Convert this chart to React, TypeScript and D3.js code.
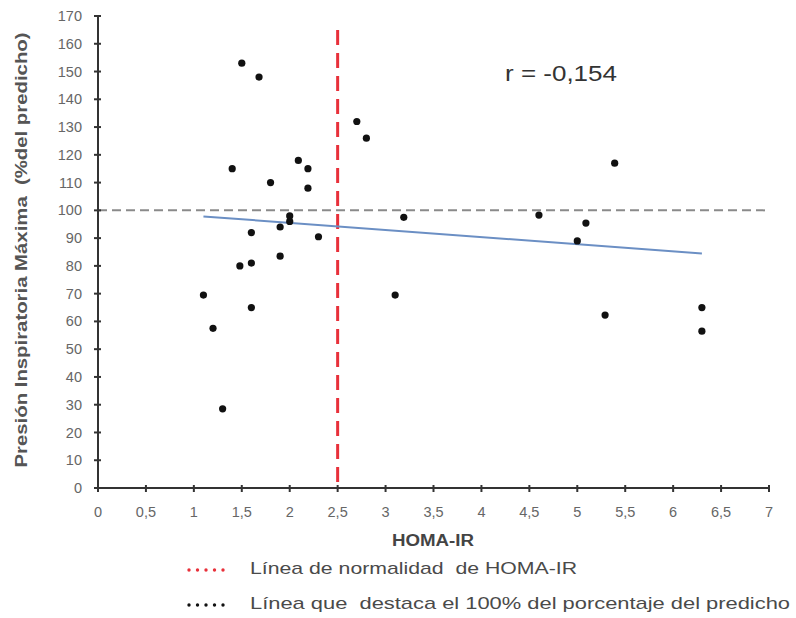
import React from "react";
import * as d3 from "d3";

const homa = [1.1, 1.2, 1.3, 1.4, 1.5, 1.48, 1.6, 1.6, 1.6, 1.68, 1.8, 1.9, 1.9, 2.0, 2.0, 2.09, 2.19, 2.19, 2.3, 2.7, 2.8, 3.1, 3.19, 4.6, 5.0, 5.09, 5.29, 5.39, 6.3, 6.3];
const pim = [69.5, 57.5, 28.5, 115, 153, 80, 81, 92, 65, 148, 110, 83.5, 94, 96, 98, 118, 115, 108, 90.5, 132, 126, 69.5, 97.5, 98.3, 89, 95.4, 62.3, 117, 65, 56.5];
const trendX = [1.1, 6.3];
const trendY = [97.8, 84.5];
const xTicks = [0, 0.5, 1, 1.5, 2, 2.5, 3, 3.5, 4, 4.5, 5, 5.5, 6, 6.5, 7];
const yTicks = [0, 10, 20, 30, 40, 50, 60, 70, 80, 90, 100, 110, 120, 130, 140, 150, 160, 170];
const homaNormal = 2.5;
const refPercent = 100;
const legendItems = [
  { label: "Línea de normalidad  de HOMA-IR", color: "#e8303a" },
  { label: "Línea que  destaca el 100% del porcentaje del predicho", color: "#111" },
];

export default function App() {
  const W = 796, H = 618;
  const x = d3.scaleLinear().domain([0, 7]).range([98, 769]);
  const y = d3.scaleLinear().domain([0, 170]).range([488, 16]);
  const fmt = (v: number) => String(v).replace(".", ",");
  const line = d3.line<number>().x((d, i) => x(trendX[i])).y((d) => y(d));
  const font = "'Liberation Sans', Arial, sans-serif";
  return (
    <svg width={W} height={H} style={{ position: "absolute", left: 0, top: 0, background: "#fff" }} fontFamily={font}>
      <rect width={W} height={H} fill="#fff" />
      <line x1={x(0)} x2={x(7)} y1={y(refPercent)} y2={y(refPercent)} stroke="#8a8a8a" strokeWidth={2} strokeDasharray="9,5" />
      <line x1={x(homaNormal)} x2={x(homaNormal)} y1={30} y2={y(0)} stroke="#e8303a" strokeWidth={3} strokeDasharray="15,8" />
      <path d={line(trendY) || ""} fill="none" stroke="#6b8fc4" strokeWidth={2} />
      {homa.map((h, i) => (
        <circle key={i} cx={x(h)} cy={y(pim[i])} r={3.6} fill="#111" />
      ))}
      <line x1={x(0)} x2={x(0)} y1={y(0)} y2={y(170)} stroke="#333" strokeWidth={2} />
      <line x1={x(0)} x2={x(7)} y1={y(0)} y2={y(0)} stroke="#333" strokeWidth={2} />
      {yTicks.map((t) => (
        <g key={"y" + t}>
          <line x1={x(0) - 4} x2={x(0) + 3} y1={y(t)} y2={y(t)} stroke="#333" strokeWidth={2} />
          <text x={82} y={y(t)} dy="0.35em" textAnchor="end" fontSize={14.5} fill="#666">{t}</text>
        </g>
      ))}
      {xTicks.map((t) => (
        <g key={"x" + t}>
          <line x1={x(t)} x2={x(t)} y1={y(0) - 3} y2={y(0) + 4} stroke="#333" strokeWidth={2} />
          <text x={x(t)} y={517} textAnchor="middle" fontSize={14.5} fill="#666">{fmt(t)}</text>
        </g>
      ))}
      <text transform={`translate(27,${250}) rotate(-90)`} textAnchor="middle" fontSize={16} fontWeight="bold" fill="#555" textLength={435} lengthAdjust="spacingAndGlyphs" style={{ whiteSpace: "pre" }}>
        Presión Inspiratoria Máxima  (%del predicho)
      </text>
      <text x={433} y={546} textAnchor="middle" fontSize={16} fontWeight="bold" fill="#444" textLength={82} lengthAdjust="spacingAndGlyphs">HOMA-IR</text>
      <text x={505} y={81} fontSize={22} fill="#333" textLength={112} lengthAdjust="spacingAndGlyphs">r = -0,154</text>
      {legendItems.map((it, i) => (
        <g key={i}>
          {[0, 1, 2, 3, 4].map((k) => (
            <circle key={k} cx={189 + k * 8.5} cy={570 + i * 35} r={1.7} fill={it.color} />
          ))}
          <text x={250} y={574 + i * 35} fontSize={17} fill="#4a4a4a" textLength={i === 0 ? 327 : 540} lengthAdjust="spacingAndGlyphs" style={{ whiteSpace: "pre" }}>{it.label}</text>
        </g>
      ))}
    </svg>
  );
}
